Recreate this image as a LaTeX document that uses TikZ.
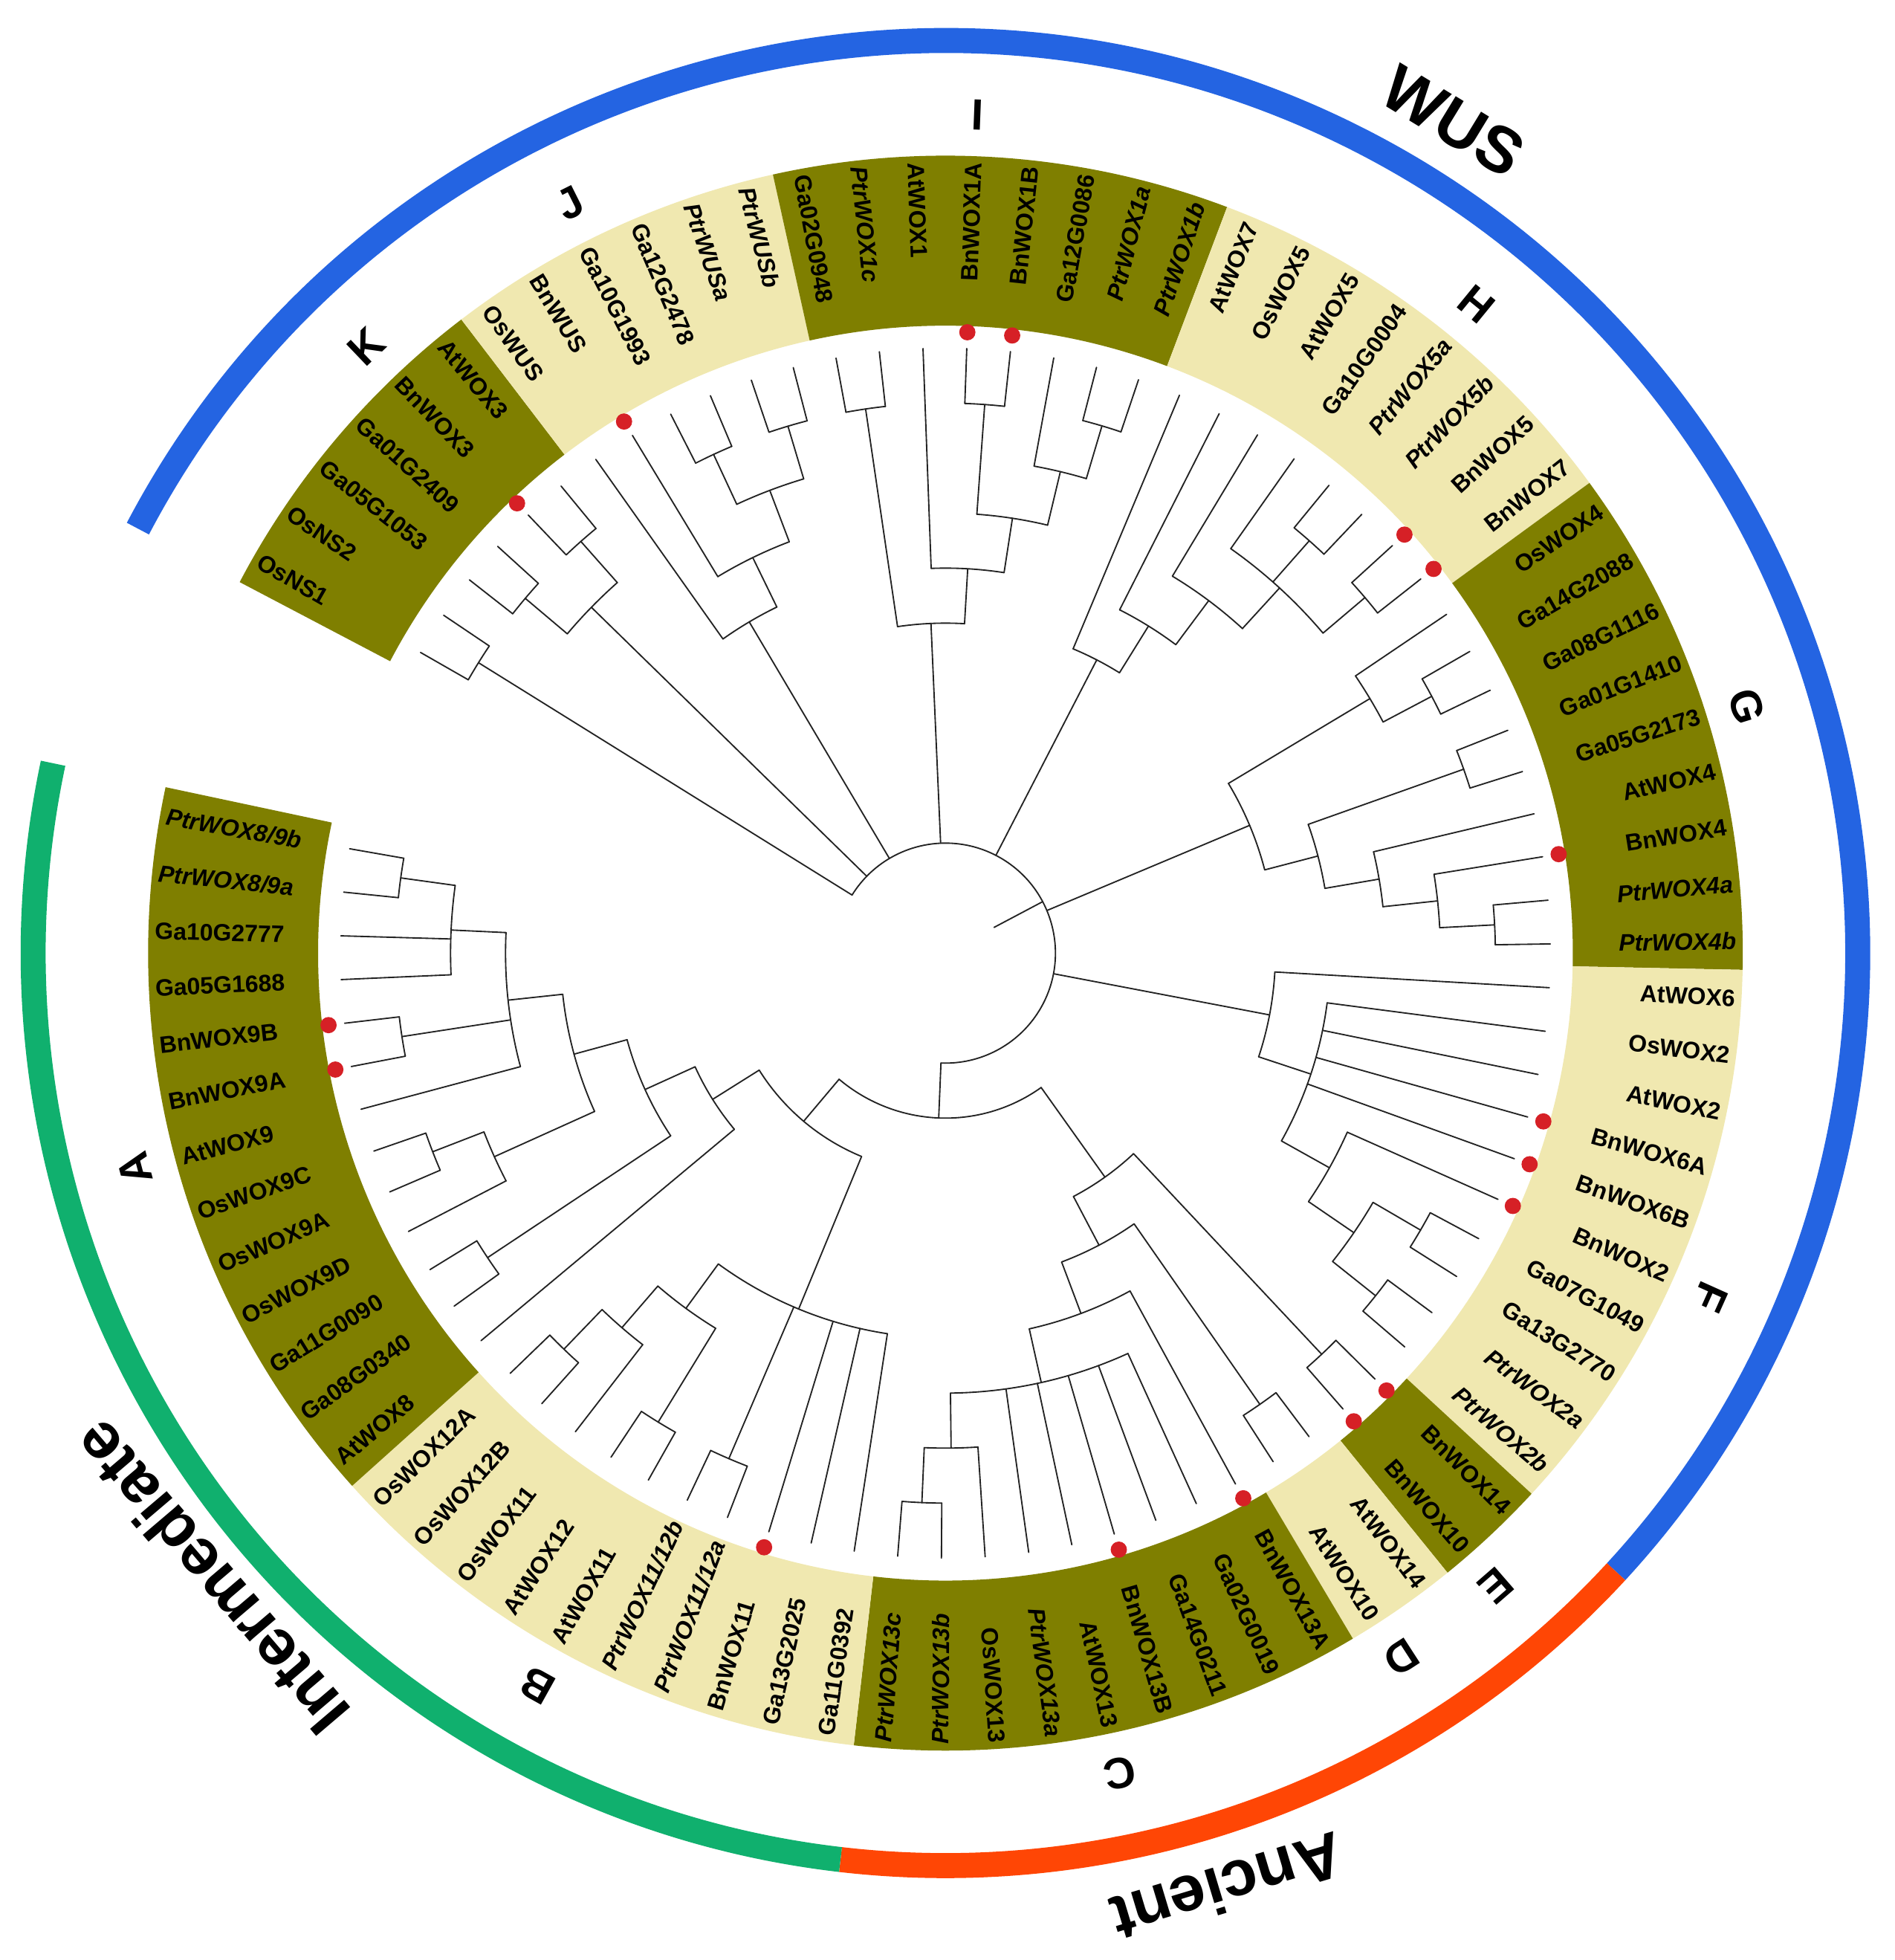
\documentclass[tikz,border=0pt]{standalone}
\usepackage{fontspec}
\setmainfont{Liberation Sans}
\definecolor{darkband}{RGB}{127,127,0}
\definecolor{lightband}{RGB}{240,232,176}
\definecolor{wusblue}{RGB}{36,100,226}
\definecolor{ancred}{RGB}{255,70,5}
\definecolor{intgreen}{RGB}{16,176,110}
\definecolor{dotred}{RGB}{214,32,38}
\definecolor{branchcol}{RGB}{35,35,35}
% leaf angle: 150.2 - 4.148*i ; level unit 44pt ; tips at 484pt
\newcommand\clade[4]{%
  \pgfmathsetmacro\tkA{150.2-4.148*(#1)}%
  \pgfmathsetmacro\tkB{150.2-4.148*(#2)}%
  \pgfmathsetmacro\tkM{150.2-4.148*((#1)+(#2))/2}%
  \pgfmathsetmacro\tkR{44*(#3)}%
  \pgfmathsetmacro\tkP{44*(#4)}%
  \draw[branch] (\tkA:\tkR pt) arc[start angle=\tkA, end angle=\tkB, radius=\tkR pt];%
  \draw[branch] (\tkM:\tkP pt) -- (\tkM:\tkR pt);%
}
\newcommand\leaf[2]{%
  \pgfmathsetmacro\tkA{150.2-4.148*(#1)}%
  \pgfmathsetmacro\tkP{44*(#2)}%
  \draw[branch] (\tkA:\tkP pt) -- (\tkA:484pt);%
}
\newcommand\bndot[1]{%
  \pgfmathsetmacro\tkA{150.2-4.148*(#1)}%
  \fill[dotred] (\tkA:497pt) circle[radius=6.5pt];%
}
\newcommand\band[3]{%
  \pgfmathsetmacro\tkA{150.2-4.148*(#1)+2.074}%
  \pgfmathsetmacro\tkB{150.2-4.148*(#2)-2.074}%
  \fill[#3] (\tkA:502pt) arc[start angle=\tkA, end angle=\tkB, radius=502pt]
    -- (\tkB:638pt) arc[start angle=\tkB, end angle=\tkA, radius=638pt] -- cycle;%
}
\newcommand\lab[3][]{%
  \pgfmathsetmacro\tkA{150.2-4.148*(#2)}%
  \pgfmathsetmacro\tkC{cos(\tkA)}%
  \ifdim\tkC pt<0pt
    \pgfmathsetmacro\tkF{\tkA+180}%
    \node[leaflab, anchor=west, rotate=\tkF] (lab#2) at (\tkA:633pt) {#1#3};%
  \else
    \node[leaflab, anchor=east, rotate=\tkA] (lab#2) at (\tkA:633pt) {#1#3};%
  \fi
}
\newcommand\clet[3]{%
  \pgfmathsetmacro\tkR{#2-90}%
  \node[cladelab, rotate=\tkR] (#1) at (#2:671pt) {#3};%
}
\begin{document}
\begin{tikzpicture}[x=1pt,y=1pt,
  branch/.style={draw=branchcol, line width=1.1pt, line cap=round},
  leaflab/.style={font=\fontsize{19pt}{19pt}\selectfont\bfseries, inner sep=0pt, text height=13.6pt, text depth=0pt},
  cladelab/.style={font=\fontsize{35pt}{35pt}\selectfont\bfseries, inner sep=0pt},
  titlelab/.style={font=\fontsize{52pt}{52pt}\selectfont\bfseries, inner sep=0pt}]
\useasboundingbox (-756.5,-805.5) rectangle (759.5,762.5);
\fill[white] (-756.5,-805.5) rectangle (759.5,762.5);

% ---- coloured label band ----
\band{0}{5}{darkband}
\band{6}{11}{lightband}
\band{12}{19}{darkband}
\band{20}{27}{lightband}
\band{28}{36}{darkband}
\band{37}{46}{lightband}
\band{47}{48}{darkband}
\band{49}{50}{lightband}
\band{51}{59}{darkband}
\band{60}{69}{lightband}
\band{70}{82}{darkband}

% ---- outer group arcs ----
\draw[line width=20pt, wusblue] (152.274:730pt) arc[start angle=152.274, end angle=-42.682, radius=730pt];
\draw[line width=20pt, ancred] (-42.682:730pt) arc[start angle=-42.682, end angle=-96.606, radius=730pt];
\draw[line width=20pt, intgreen] (-96.606:730pt) arc[start angle=-96.606, end angle=-192.01, radius=730pt];

% ---- tree: internal nodes ----
\clade{0}{1}{10}{2}
\clade{2}{3}{10}{9}
\clade{4}{5}{10}{9}
\clade{2.5}{4.5}{9}{2}
\clade{8}{9}{10}{9}
\clade{10}{11}{10}{9}
\clade{8.5}{10.5}{9}{8}
\clade{7}{9.5}{8}{7}
\clade{6}{8.25}{7}{2}
\clade{12}{13}{10}{6}
\clade{15}{16}{10}{8}
\clade{18}{19}{10}{9}
\clade{17}{18.5}{9}{8}
\clade{15.5}{17.75}{8}{7}
\clade{14}{16.625}{7}{6}
\clade{12.5}{15.3125}{6}{2}
\clade{24}{25}{10}{9}
\clade{26}{27}{10}{9}
\clade{23}{26.5}{9}{8}
\clade{22}{24.75}{8}{7}
\clade{21}{23.375}{7}{6}
\clade{20}{22.1875}{6}{2}
\clade{29}{30}{10}{9}
\clade{28}{29.5}{9}{6}
\clade{31}{32}{10}{7}
\clade{35}{36}{10}{9}
\clade{34}{35.5}{9}{8}
\clade{33}{34.75}{8}{7}
\clade{31.5}{33.875}{7}{6}
\clade{28.75}{32.6875}{6}{2}
\clade{43}{44}{10}{9}
\clade{45}{46}{10}{9}
\clade{43.5}{45.5}{9}{8}
\clade{42}{44.5}{8}{7}
\clade{38}{43.25}{7}{6}
\clade{37}{40.625}{6}{2}
\clade{47}{48}{10}{5}
\clade{49}{50}{10}{6}
\clade{58}{59}{10}{9}
\clade{57}{58.5}{9}{8}
\clade{52}{57.75}{8}{7}
\clade{51}{54.875}{7}{6}
\clade{49.5}{52.9375}{6}{5}
\clade{47.5}{51.21875}{5}{3}
\clade{63}{64}{10}{7}
\clade{65}{66}{10}{8}
\clade{68}{69}{10}{9}
\clade{67}{68.5}{9}{8}
\clade{65.5}{67.75}{8}{7}
\clade{60}{66.625}{7}{4}
\clade{71}{72}{10}{6}
\clade{74}{75}{10}{9}
\clade{73}{74.5}{9}{7}
\clade{81}{82}{10}{9}
\clade{79}{81.5}{9}{8}
\clade{77}{78}{10}{8}
\clade{76}{80.25}{8}{7}
\clade{73.75}{78.125}{7}{6}
\clade{71.5}{75.9375}{6}{5}
\clade{70}{73.71875}{5}{4}
\clade{63.3125}{71.859375}{4}{3}
\clade{49.359375}{67.5859375}{3}{2}
\clade{0.5}{58.47265625}{2}{1}

% ---- tree: leaves ----
\leaf{0}{10}\leaf{1}{10}\leaf{2}{10}\leaf{3}{10}\leaf{4}{10}\leaf{5}{10}
\leaf{6}{7}\leaf{7}{8}\leaf{8}{10}\leaf{9}{10}\leaf{10}{10}\leaf{11}{10}
\leaf{12}{10}\leaf{13}{10}\leaf{14}{7}\leaf{15}{10}\leaf{16}{10}\leaf{17}{9}\leaf{18}{10}\leaf{19}{10}
\leaf{20}{6}\leaf{21}{7}\leaf{22}{8}\leaf{23}{9}\leaf{24}{10}\leaf{25}{10}\leaf{26}{10}\leaf{27}{10}
\leaf{28}{9}\leaf{29}{10}\leaf{30}{10}\leaf{31}{10}\leaf{32}{10}\leaf{33}{8}\leaf{34}{9}\leaf{35}{10}\leaf{36}{10}
\leaf{37}{6}\leaf{38}{7}\leaf{39}{7}\leaf{40}{7}\leaf{41}{7}\leaf{42}{8}\leaf{43}{10}\leaf{44}{10}\leaf{45}{10}\leaf{46}{10}
\leaf{47}{10}\leaf{48}{10}\leaf{49}{10}\leaf{50}{10}
\leaf{51}{7}\leaf{52}{8}\leaf{53}{8}\leaf{54}{8}\leaf{55}{8}\leaf{56}{8}\leaf{57}{9}\leaf{58}{10}\leaf{59}{10}
\leaf{60}{7}\leaf{61}{7}\leaf{62}{7}\leaf{63}{10}\leaf{64}{10}\leaf{65}{10}\leaf{66}{10}\leaf{67}{9}\leaf{68}{10}\leaf{69}{10}
\leaf{70}{5}\leaf{71}{10}\leaf{72}{10}\leaf{73}{9}\leaf{74}{10}\leaf{75}{10}\leaf{76}{8}\leaf{77}{10}\leaf{78}{10}
\leaf{79}{9}\leaf{80}{9}\leaf{81}{10}\leaf{82}{10}

% ---- red dots (Bn genes) ----
\bndot{4}\bndot{7}\bndot{15}\bndot{16}\bndot{26}\bndot{27}\bndot{34}
\bndot{40}\bndot{41}\bndot{42}\bndot{47}\bndot{48}\bndot{51}\bndot{54}
\bndot{62}\bndot{77}\bndot{78}

% ---- leaf labels ----
\lab{0}{OsNS1}\lab{1}{OsNS2}\lab{2}{Ga05G1053}\lab{3}{Ga01G2409}\lab{4}{BnWOX3}\lab{5}{AtWOX3}
\lab{6}{OsWUS}\lab{7}{BnWUS}\lab{8}{Ga10G1993}\lab{9}{Ga12G2478}\lab[\itshape]{10}{PtrWUSa}\lab[\itshape]{11}{PtrWUSb}
\lab{12}{Ga02G0948}\lab[\itshape]{13}{PtrWOX1c}\lab{14}{AtWOX1}\lab{15}{BnWOX1A}\lab{16}{BnWOX1B}\lab{17}{Ga12G0086}\lab[\itshape]{18}{PtrWOX1a}\lab[\itshape]{19}{PtrWOX1b}
\lab{20}{AtWOX7}\lab{21}{OsWOX5}\lab{22}{AtWOX5}\lab{23}{Ga10G0004}\lab[\itshape]{24}{PtrWOX5a}\lab[\itshape]{25}{PtrWOX5b}\lab{26}{BnWOX5}\lab{27}{BnWOX7}
\lab{28}{OsWOX4}\lab{29}{Ga14G2088}\lab{30}{Ga08G1116}\lab{31}{Ga01G1410}\lab{32}{Ga05G2173}\lab{33}{AtWOX4}\lab{34}{BnWOX4}\lab[\itshape]{35}{PtrWOX4a}\lab[\itshape]{36}{PtrWOX4b}
\lab{37}{AtWOX6}\lab{38}{OsWOX2}\lab{39}{AtWOX2}\lab{40}{BnWOX6A}\lab{41}{BnWOX6B}\lab{42}{BnWOX2}\lab{43}{Ga07G1049}\lab{44}{Ga13G2770}\lab[\itshape]{45}{PtrWOX2a}\lab[\itshape]{46}{PtrWOX2b}
\lab{47}{BnWOX14}\lab{48}{BnWOX10}\lab{49}{AtWOX14}\lab{50}{AtWOX10}
\lab{51}{BnWOX13A}\lab{52}{Ga02G0019}\lab{53}{Ga14G0211}\lab{54}{BnWOX13B}\lab{55}{AtWOX13}\lab[\itshape]{56}{PtrWOX13a}\lab{57}{OsWOX13}\lab[\itshape]{58}{PtrWOX13b}\lab[\itshape]{59}{PtrWOX13c}
\lab{60}{Ga11G0392}\lab{61}{Ga13G2025}\lab{62}{BnWOX11}\lab[\itshape]{63}{PtrWOX11/12a}\lab[\itshape]{64}{PtrWOX11/12b}\lab{65}{AtWOX11}\lab{66}{AtWOX12}\lab{67}{OsWOX11}\lab{68}{OsWOX12B}\lab{69}{OsWOX12A}
\lab{70}{AtWOX8}\lab{71}{Ga08G0340}\lab{72}{Ga11G0090}\lab{73}{OsWOX9D}\lab{74}{OsWOX9A}\lab{75}{OsWOX9C}\lab{76}{AtWOX9}\lab{77}{BnWOX9A}\lab{78}{BnWOX9B}
\lab{79}{Ga05G1688}\lab{80}{Ga10G2777}\lab[\itshape]{81}{PtrWOX8/9a}\lab[\itshape]{82}{PtrWOX8/9b}

% ---- clade letters ----
\clet{cK}{133.7}{K}
\clet{cJ}{116.6}{J}
\clet{cI}{87.8}{I}
\clet{cH}{50.7}{H}
\clet{cG}{17.1}{G}
\clet{cF}{-24.2}{F}
\clet{cE}{-49.0}{E}
\clet{cD}{-57.1}{D}
\clet{cC}{-78.0}{C}
\clet{cB}{-119.1}{B}
\clet{cA}{-165.1}{A}

% ---- group titles ----
\node[titlelab, rotate=-31.4] (tWUS) at (58.6:780pt) {WUS};
\node[titlelab, rotate=130.4] (tInt) at (-139.6:772pt) {Intermediate};
\node[titlelab, rotate=-163.2] (tAnc) at (-73.2:781pt) {Ancient};
\end{tikzpicture}
\end{document}
